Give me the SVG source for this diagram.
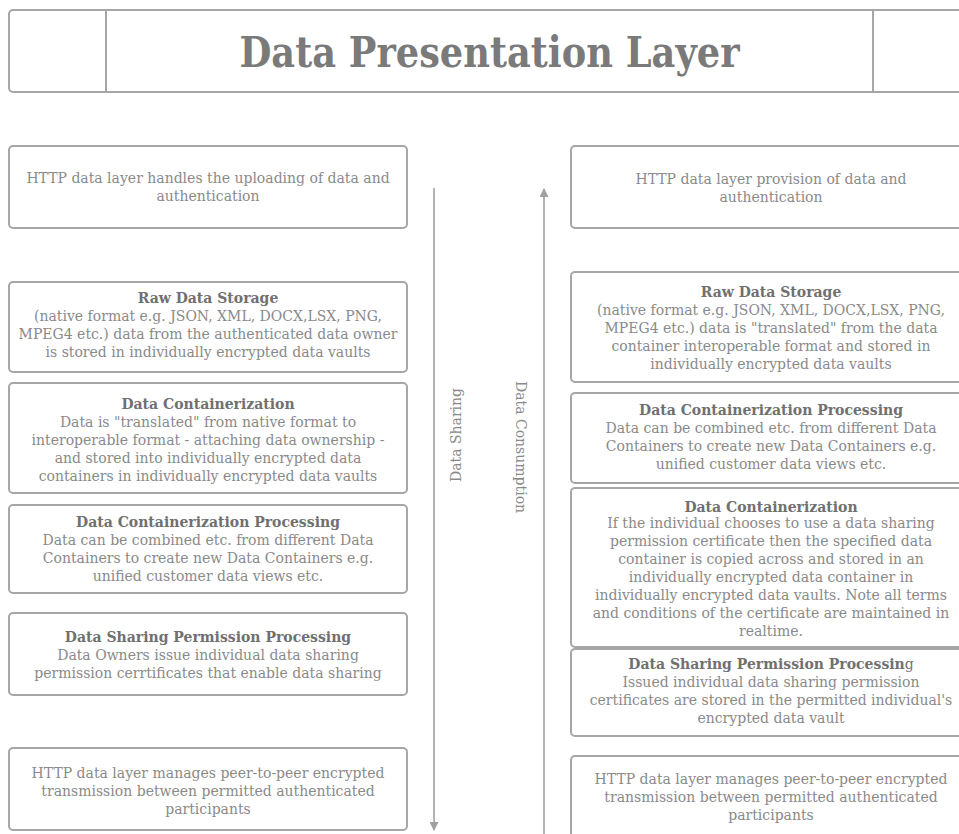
<svg xmlns="http://www.w3.org/2000/svg" width="959" height="834" viewBox="0 0 959 834">
  <style>
    .box { fill: #ffffff; stroke: #a6a6a6; stroke-width: 2; }
    .rule { stroke: #a6a6a6; stroke-width: 2; fill: none; }
    .title { font-family: "DejaVu Serif", "Liberation Serif", serif; font-weight: bold; font-size: 42px; fill: #7a7a7a; text-anchor: middle; }
    .t { font-family: "DejaVu Serif", "Liberation Serif", serif; font-size: 14px; fill: #8a8a8a; text-anchor: middle; }
    .h { font-weight: bold; fill: #707070; }
    .flow { stroke: #a0a0a0; stroke-width: 1.6; fill: none; }
    .lbl { font-family: "DejaVu Serif", "Liberation Serif", serif; font-size: 14px; fill: #8a8a8a; text-anchor: middle; }
  </style>
  <defs>
    <marker id="tip" viewBox="0 0 10 10" refX="9" refY="5" markerWidth="11" markerHeight="9" markerUnits="userSpaceOnUse" orient="auto">
      <path d="M0,0 L10,5 L0,10 z" fill="#a0a0a0"/>
    </marker>
  </defs>
  <rect width="959" height="834" fill="#ffffff"/>

  <!-- header band -->
  <g id="header">
    <rect class="box" x="9" y="10" width="980" height="82" rx="4"/>
    <line class="rule" x1="106" y1="10" x2="106" y2="92"/>
    <line class="rule" x1="873" y1="10" x2="873" y2="92"/>
    <text class="title" x="489.5" y="67" textLength="500" lengthAdjust="spacingAndGlyphs">Data Presentation Layer</text>
  </g>

  <!-- flow direction connectors -->
  <g id="connectors">
    <line class="flow" x1="434" y1="188" x2="434" y2="830" marker-end="url(#tip)"/>
    <line class="flow" x1="544" y1="834" x2="544" y2="189" marker-end="url(#tip)"/>
    <text class="lbl" transform="translate(461 435) rotate(-90)">Data Sharing</text>
    <text class="lbl" transform="translate(516 447) rotate(90)">Data Consumption</text>
  </g>

  <!-- sharing column -->
  <g id="l-http-upload">
    <rect class="box" x="9" y="146" width="398" height="82" rx="4"/>
    <text class="t" x="208" y="183">HTTP data layer handles the uploading of data and</text>
    <text class="t" x="208" y="201">authentication</text>
  </g>
  <g id="l-raw-storage">
    <rect class="box" x="9" y="282" width="398" height="90" rx="4"/>
    <text class="t h" x="208" y="303">Raw Data Storage</text>
    <text class="t" x="208" y="321">(native format e.g. JSON, XML, DOCX,LSX, PNG,</text>
    <text class="t" x="208" y="339">MPEG4 etc.) data from the authenticated data owner</text>
    <text class="t" x="208" y="357">is stored in individually encrypted data vaults</text>
  </g>
  <g id="l-containerization">
    <rect class="box" x="9" y="383" width="398" height="110" rx="4"/>
    <text class="t h" x="208" y="409">Data Containerization</text>
    <text class="t" x="208" y="427">Data is "translated" from native format to</text>
    <text class="t" x="208" y="445">interoperable format - attaching data ownership -</text>
    <text class="t" x="208" y="463">and stored into individually encrypted data</text>
    <text class="t" x="208" y="481">containers in individually encrypted data vaults</text>
  </g>
  <g id="l-container-processing">
    <rect class="box" x="9" y="505" width="398" height="88" rx="4"/>
    <text class="t h" x="208" y="527">Data Containerization Processing</text>
    <text class="t" x="208" y="545">Data can be combined etc. from different Data</text>
    <text class="t" x="208" y="563">Containers to create new Data Containers e.g.</text>
    <text class="t" x="208" y="581">unified customer data views etc.</text>
  </g>
  <g id="l-permission-processing">
    <rect class="box" x="9" y="613" width="398" height="82" rx="4"/>
    <text class="t h" x="208" y="642">Data Sharing Permission Processing</text>
    <text class="t" x="208" y="660">Data Owners issue individual data sharing</text>
    <text class="t" x="208" y="678">permission cerrtificates that enable data sharing</text>
  </g>
  <g id="l-http-p2p">
    <rect class="box" x="9" y="748" width="398" height="82" rx="4"/>
    <text class="t" x="208" y="778">HTTP data layer manages peer-to-peer encrypted</text>
    <text class="t" x="208" y="796">transmission between permitted authenticated</text>
    <text class="t" x="208" y="814">participants</text>
  </g>

  <!-- consumption column -->
  <g id="r-http-provision">
    <rect class="box" x="571" y="146" width="400" height="82" rx="4"/>
    <text class="t" x="771" y="184">HTTP data layer provision of data and</text>
    <text class="t" x="771" y="202">authentication</text>
  </g>
  <g id="r-raw-storage">
    <rect class="box" x="571" y="272" width="400" height="110" rx="4"/>
    <text class="t h" x="771" y="297">Raw Data Storage</text>
    <text class="t" x="771" y="315">(native format e.g. JSON, XML, DOCX,LSX, PNG,</text>
    <text class="t" x="771" y="333">MPEG4 etc.) data is "translated" from the data</text>
    <text class="t" x="771" y="351">container interoperable format and stored in</text>
    <text class="t" x="771" y="369">individually encrypted data vaults</text>
  </g>
  <g id="r-container-processing">
    <rect class="box" x="571" y="393" width="400" height="90" rx="4"/>
    <text class="t h" x="771" y="415">Data Containerization Processing</text>
    <text class="t" x="771" y="433">Data can be combined etc. from different Data</text>
    <text class="t" x="771" y="451">Containers to create new Data Containers e.g.</text>
    <text class="t" x="771" y="469">unified customer data views etc.</text>
  </g>
  <g id="r-containerization">
    <rect class="box" x="571" y="488" width="400" height="159" rx="4"/>
    <text class="t h" x="771" y="512">Data Containerization</text>
    <text class="t" x="771" y="528">If the individual chooses to use a data sharing</text>
    <text class="t" x="771" y="546">permission certificate then the specified data</text>
    <text class="t" x="771" y="564">container is copied across and stored in an</text>
    <text class="t" x="771" y="582">individually encrypted data container in</text>
    <text class="t" x="771" y="600">individually encrypted data vaults. Note all terms</text>
    <text class="t" x="771" y="618">and conditions of the certificate are maintained in</text>
    <text class="t" x="771" y="636">realtime.</text>
  </g>
  <g id="r-permission-processing">
    <rect class="box" x="571" y="649" width="400" height="87" rx="4"/>
    <text class="t h" x="771" y="669">Data Sharing Permission Processin<tspan font-weight="normal">g</tspan></text>
    <text class="t" x="771" y="687">Issued individual data sharing permission</text>
    <text class="t" x="771" y="705">certificates are stored in the permitted individual's</text>
    <text class="t" x="771" y="723">encrypted data vault</text>
  </g>
  <g id="r-http-p2p">
    <rect class="box" x="571" y="756" width="400" height="90" rx="4"/>
    <text class="t" x="771" y="784">HTTP data layer manages peer-to-peer encrypted</text>
    <text class="t" x="771" y="802">transmission between permitted authenticated</text>
    <text class="t" x="771" y="820">participants</text>
  </g>
</svg>
